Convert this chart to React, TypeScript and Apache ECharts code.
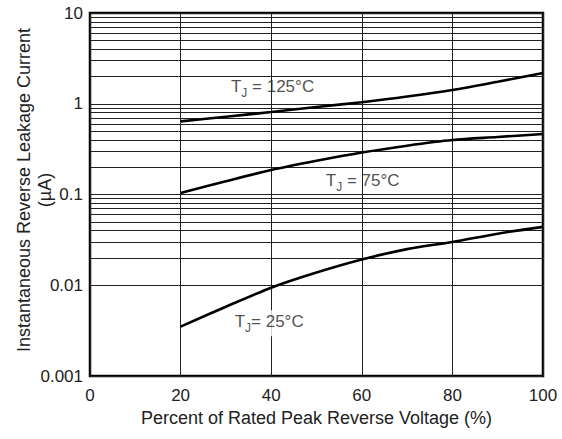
import React, { useEffect, useRef } from "react";
import * as echarts from "echarts";

const xValues = [20, 30, 40, 50, 60, 70, 80, 90, 100];
const t125 = [0.64, 0.72, 0.81, 0.92, 1.04, 1.2, 1.42, 1.75, 2.18];
const t75 = [0.104, 0.14, 0.186, 0.235, 0.29, 0.345, 0.398, 0.43, 0.465];
const t25 = [0.0035, 0.0058, 0.0094, 0.0138, 0.0192, 0.025, 0.03, 0.037, 0.044];

const decades = [0.001, 0.01, 0.1, 1];
const minorMultipliers = [2, 3, 4, 5, 6, 7, 8, 9];

const labels = [
  { text: " = 125°C", x: 40.3, y: 1.49, bg: false },
  { text: " = 75°C", x: 60.2, y: 0.137, bg: false },
  { text: "= 25°C", x: 40.1, y: 0.00382, bg: true },
];

const FONT = "'Liberation Sans', Arial, sans-serif";

export default function App() {
  const ref = useRef<HTMLDivElement>(null);
  useEffect(() => {
    if (!ref.current) return;
    const chart = echarts.init(ref.current, null, { renderer: "svg" });
    const minorLines: any[] = [];
    decades.forEach((d) =>
      minorMultipliers.forEach((m) => minorLines.push({ yAxis: Number((d * m).toPrecision(3)) }))
    );
    const pair = (arr: number[]) => xValues.map((x, i) => [x, arr[i]]);
    const curveStyle = { color: "#000", width: 2.6 };
    chart.setOption({
      animation: false,
      backgroundColor: "#fff",
      grid: {
        left: 90,
        top: 13,
        right: 19,
        bottom: 63,
        show: true,
        borderColor: "#000",
        borderWidth: 2.5,
        backgroundColor: "transparent",
      },
      xAxis: {
        type: "value",
        min: 0,
        max: 100,
        interval: 20,
        name: "Percent of Rated Peak Reverse Voltage (%)",
        nameLocation: "middle",
        nameGap: 33,
        nameTextStyle: { fontSize: 18, fontFamily: FONT, color: "#222" },
        axisLine: { show: false },
        axisTick: { show: false },
        axisLabel: { fontSize: 17, fontFamily: FONT, color: "#222", margin: 11 },
        splitLine: { show: true, lineStyle: { color: "#222", width: 1 } },
      },
      yAxis: {
        type: "log",
        logBase: 10,
        min: 0.001,
        max: 10,
        axisLine: { show: false },
        axisTick: { show: false },
        axisLabel: {
          fontSize: 17,
          fontFamily: FONT,
          color: "#222",
          margin: 7,
          formatter: (v: number) => String(Number(v.toPrecision(3))),
        },
        splitLine: { show: true, lineStyle: { color: "#222", width: 1 } },
      },
      graphic: [
        {
          type: "text",
          x: 34,
          y: 190,
          rotation: Math.PI / 2,
          style: {
            text: "Instantaneous Reverse Leakage Current\n(µA)",
            font: `18px ${FONT}`,
            fill: "#222",
            align: "center",
            verticalAlign: "middle",
            lineHeight: 21,
          },
        },
      ],
      series: [
        {
          type: "line",
          data: pair(t25),
          smooth: 0.3,
          showSymbol: false,
          lineStyle: curveStyle,
          z: 5,
          markLine: {
            silent: true,
            symbol: "none",
            label: { show: false },
            lineStyle: { color: "#222", width: 1, type: "solid" },
            z: 1,
            data: minorLines,
          },
        },
        { type: "line", data: pair(t125), smooth: 0.3, showSymbol: false, lineStyle: curveStyle, z: 5 },
        { type: "line", data: pair(t75), smooth: 0.3, showSymbol: false, lineStyle: curveStyle, z: 5 },
        {
          type: "scatter",
          symbolSize: 0,
          z: 10,
          data: labels.map((l) => ({
            value: [l.x, l.y],
            label: {
              show: true,
              position: "inside",
              formatter: `{a|T}{s|J}{a|${l.text}}`,
              backgroundColor: l.bg ? "#ffffff" : "transparent",
              padding: l.bg ? [3, 13, 2, 8] : 0,
              rich: {
                a: { fontSize: 17, fontFamily: FONT, color: "#222", padding: [0, 0, 4, 0], verticalAlign: "bottom" },
                s: { fontSize: 12, fontFamily: FONT, color: "#222", verticalAlign: "bottom" },
              },
            },
          })),
        },
      ],
    });
    return () => chart.dispose();
  }, []);
  return (
    <div
      ref={ref}
      style={{ position: "fixed", left: 0, top: 0, width: 562, height: 439, background: "#fff" }}
    />
  );
}
